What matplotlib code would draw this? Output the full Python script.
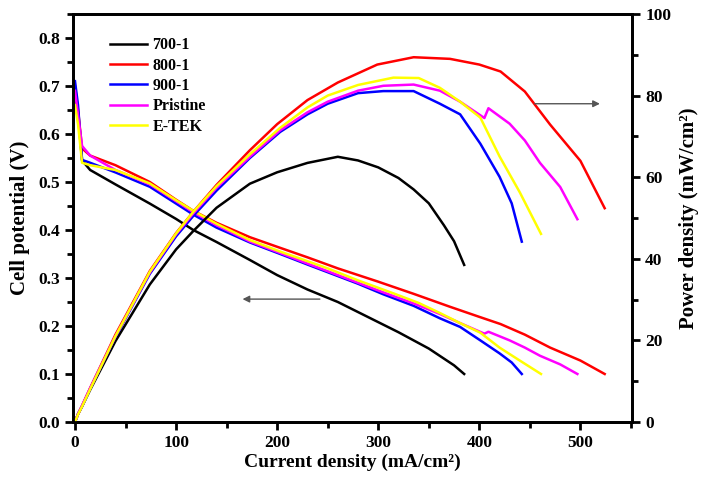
import matplotlib
matplotlib.use("Agg")
from matplotlib import pyplot as plt
from matplotlib.ticker import MultipleLocator

plt.rcParams["font.family"] = ["Liberation Serif", "DejaVu Serif"]
plt.rcParams["font.weight"] = "bold"

labels = ["700-1", "800-1", "900-1", "Pristine", "E-TEK"]
colors = ["black", "red", "blue", "magenta", "yellow"]

# current density (mA/cm2)
cur_700 = [0, 3, 7, 15, 40, 74, 100, 117, 140, 173, 200, 230, 260, 280, 300, 320, 335, 350, 365, 375, 385]
cur_800 = [0, 3, 7, 15, 40, 74, 100, 117, 140, 173, 200, 230, 260, 299, 335, 371, 400, 421, 445, 470, 500, 524]
cur_900 = [0, 3, 7, 15, 40, 74, 100, 117, 140, 173, 203, 230, 250, 280, 305, 335, 361, 381, 401, 420, 432, 442]
cur_pri = [0, 3, 7, 15, 40, 74, 100, 117, 140, 173, 203, 230, 250, 280, 305, 335, 361, 381, 405, 409, 430, 445, 460, 480, 497]
cur_etek = [0, 3, 7, 15, 40, 74, 100, 117, 140, 173, 203, 230, 250, 280, 315, 340, 361, 381, 401, 420, 440, 461]

# cell potential (V)
v_700 = [0.69, 0.64, 0.545, 0.525, 0.495, 0.455, 0.423, 0.40, 0.375, 0.3375, 0.306, 0.276, 0.25, 0.229,
         0.208, 0.187, 0.170, 0.153, 0.132, 0.118, 0.10]
v_800 = [0.70, 0.65, 0.57, 0.555, 0.535, 0.50, 0.463, 0.44, 0.415, 0.385, 0.365, 0.343, 0.320, 0.293,
         0.267, 0.240, 0.219, 0.204, 0.182, 0.155, 0.128, 0.10]
v_900 = [0.71, 0.66, 0.546, 0.54, 0.52, 0.49, 0.455, 0.432, 0.405, 0.374, 0.35, 0.328, 0.312, 0.288,
         0.266, 0.242, 0.216, 0.198, 0.17, 0.143, 0.124, 0.10]
v_pri = [0.69, 0.64, 0.575, 0.555, 0.525, 0.495, 0.46, 0.437, 0.41, 0.376, 0.352, 0.33, 0.314, 0.29,
         0.27, 0.247, 0.225, 0.206, 0.184, 0.188, 0.17, 0.155, 0.138, 0.12, 0.10]
v_etek = [0.66, 0.62, 0.54, 0.535, 0.525, 0.497, 0.462, 0.44, 0.413, 0.379, 0.355, 0.335, 0.32, 0.295,
          0.268, 0.248, 0.227, 0.206, 0.186, 0.155, 0.128, 0.10]

# power density (mW/cm2)
p_700 = [0, 1.92, 3.82, 7.88, 19.8, 33.7, 42.3, 46.8, 52.5, 58.4, 61.2, 63.5, 65.0, 64.1, 62.4, 59.8,
         57.0, 53.6, 48.2, 44.3, 38.5]
p_800 = [0, 1.95, 3.99, 8.33, 21.4, 37.0, 46.3, 51.5, 58.1, 66.6, 73.0, 78.9, 83.2, 87.6, 89.4, 89.0,
         87.6, 85.9, 81.0, 72.9, 64.0, 52.4]
p_900 = [0, 1.98, 3.82, 8.1, 20.8, 36.3, 45.5, 50.5, 56.7, 64.7, 71.1, 75.4, 78.0, 80.6, 81.1, 81.1,
         78.0, 75.4, 68.2, 60.1, 53.6, 44.2]
p_pri = [0, 1.92, 4.03, 8.33, 21.0, 36.6, 46.0, 51.1, 57.4, 65.0, 71.5, 75.9, 78.5, 81.2, 82.4, 82.7,
         81.2, 78.5, 74.5, 76.9, 73.1, 69.0, 63.5, 57.6, 49.7]
p_etek = [0, 1.86, 3.78, 8.03, 21.0, 36.8, 46.2, 51.5, 57.8, 65.6, 72.1, 77.1, 80.0, 82.6, 84.4, 84.3,
          81.9, 78.5, 74.6, 65.1, 56.3, 46.1]

currents = [cur_700, cur_800, cur_900, cur_pri, cur_etek]
volts = [v_700, v_800, v_900, v_pri, v_etek]
powers = [p_700, p_800, p_900, p_pri, p_etek]

fig = plt.figure(figsize=(7.12, 4.82), dpi=100)
ax = fig.add_axes([0.1032, 0.1245, 0.7844, 0.8465])
ax2 = ax.twinx()

for cur, v, p, c, lab in zip(currents, volts, powers, colors, labels):
    ax.plot(cur, v, color=c, lw=1.8, label=lab)
    ax2.plot(cur, p, color=c, lw=1.8)

ax.set_xlim(-1.5, 551)
ax.set_ylim(0, 0.85)
ax2.set_ylim(0, 100)

ax.xaxis.set_major_locator(MultipleLocator(100))
ax.xaxis.set_minor_locator(MultipleLocator(50))
ax.yaxis.set_major_locator(MultipleLocator(0.1))
ax.yaxis.set_minor_locator(MultipleLocator(0.05))
ax.yaxis.set_major_formatter(lambda y, pos: f"{y:.1f}")
ax2.yaxis.set_major_locator(MultipleLocator(20))
ax2.yaxis.set_minor_locator(MultipleLocator(10))

for a in (ax, ax2):
    for s in a.spines.values():
        s.set_linewidth(2)
    a.tick_params(which="major", direction="out", length=6, width=2, labelsize=12.5)
    a.tick_params(which="minor", direction="out", length=4, width=2)
ax.tick_params(axis="both", which="both", top=False)

ax.set_xlabel("Current density (mA/cm²)", fontsize=14, fontweight="bold", labelpad=2)
ax.set_ylabel("Cell potential (V)", fontsize=15, fontweight="bold", labelpad=6)
ax2.set_ylabel("Power density (mW/cm²)", fontsize=15, fontweight="bold", labelpad=6)

ax.legend(loc="upper left", bbox_to_anchor=(0.04, 0.978), frameon=False,
          fontsize=11.5, handlelength=2.3, labelspacing=0.27, handletextpad=0.35)

ax.annotate("", xy=(163, 0.256), xytext=(245, 0.256),
            arrowprops=dict(arrowstyle="-|>", color="#555555", lw=1))
ax2.annotate("", xy=(522, 78), xytext=(452, 78),
             arrowprops=dict(arrowstyle="-|>", color="#555555", lw=1))

fig.savefig("out.png", dpi=100)
